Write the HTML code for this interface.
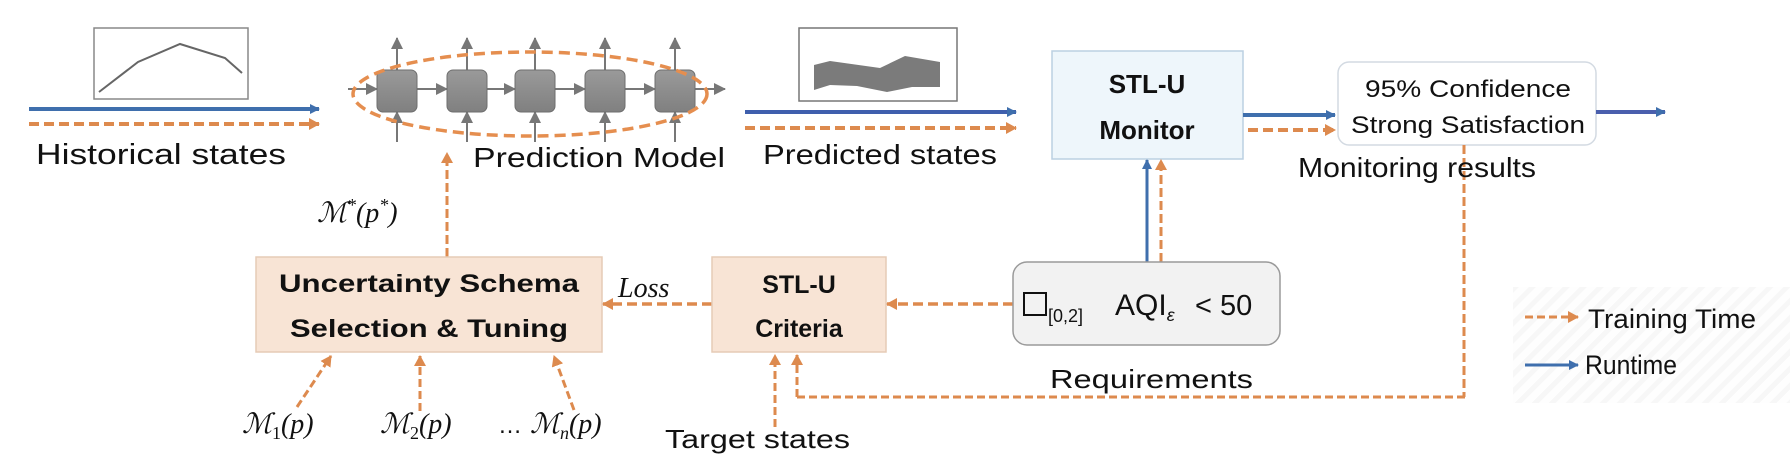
<!DOCTYPE html>
<html><head><meta charset="utf-8"><style>
html,body{margin:0;padding:0;background:#fff;}
svg{display:block;}
text{font-family:"Liberation Sans",sans-serif;fill:#111;}
.b{font-weight:bold;}
.m{font-family:"Liberation Serif",serif;font-style:italic;}
</style></head><body>
<svg width="1790" height="470" viewBox="0 0 1790 470" xmlns="http://www.w3.org/2000/svg">
<defs>
<marker id="ab" markerWidth="10" markerHeight="10" refX="9" refY="5" orient="auto" markerUnits="userSpaceOnUse"><path d="M0,0 L10,5 L0,10 z" fill="#3f6fad"/></marker>
<marker id="ao" markerWidth="11" markerHeight="12" refX="10" refY="6" orient="auto" markerUnits="userSpaceOnUse"><path d="M0,0 L11,6 L0,12 z" fill="#dd8a4e"/></marker>
<marker id="ag" markerWidth="12" markerHeight="12" refX="11" refY="6" orient="auto" markerUnits="userSpaceOnUse"><path d="M0,0 L12,6 L0,12 z" fill="#777"/></marker>
<linearGradient id="cg" x1="0" y1="0" x2="0" y2="1"><stop offset="0" stop-color="#9a9a9a"/><stop offset="1" stop-color="#808080"/></linearGradient>
<pattern id="hatch" width="12" height="12" patternUnits="userSpaceOnUse" patternTransform="rotate(45)"><rect width="12" height="12" fill="#fefefe"/><rect width="5" height="12" fill="#f7f7f7"/></pattern>
</defs>

<!-- Historical -->
<rect x="94" y="28" width="154" height="71" fill="#fff" stroke="#888" stroke-width="1.5"/>
<polyline points="99,92 138,62 180,44 225,58 242,73" fill="none" stroke="#666" stroke-width="2"/>
<line x1="29" y1="109" x2="319" y2="109" stroke="#3f6fad" stroke-width="4" marker-end="url(#ab)"/>
<line x1="29" y1="124" x2="319" y2="124" stroke="#dd8a4e" stroke-width="4" stroke-dasharray="10,5" marker-end="url(#ao)"/>
<text x="36" y="164" font-size="29" textLength="250" lengthAdjust="spacingAndGlyphs">Historical states</text>

<!-- Prediction model -->
<g stroke="#777" stroke-width="2" fill="none">
<line x1="397" y1="70" x2="397" y2="38" marker-end="url(#ag)"/>
<line x1="467" y1="70" x2="467" y2="38" marker-end="url(#ag)"/>
<line x1="535" y1="70" x2="535" y2="38" marker-end="url(#ag)"/>
<line x1="605" y1="70" x2="605" y2="38" marker-end="url(#ag)"/>
<line x1="675" y1="70" x2="675" y2="38" marker-end="url(#ag)"/>
<line x1="397" y1="142" x2="397" y2="112" marker-end="url(#ag)"/>
<line x1="467" y1="142" x2="467" y2="112" marker-end="url(#ag)"/>
<line x1="535" y1="142" x2="535" y2="112" marker-end="url(#ag)"/>
<line x1="605" y1="142" x2="605" y2="112" marker-end="url(#ag)"/>
<line x1="675" y1="142" x2="675" y2="112" marker-end="url(#ag)"/>
<line x1="348" y1="89" x2="377" y2="89" marker-end="url(#ag)"/>
<line x1="417" y1="89" x2="447" y2="89" marker-end="url(#ag)"/>
<line x1="487" y1="89" x2="515" y2="89" marker-end="url(#ag)"/>
<line x1="554" y1="89" x2="585" y2="89" marker-end="url(#ag)"/>
<line x1="625" y1="89" x2="655" y2="89" marker-end="url(#ag)"/>
<line x1="695" y1="89" x2="725" y2="89" marker-end="url(#ag)"/>
</g>
<g fill="url(#cg)" stroke="#6e6e6e" stroke-width="1">
<rect x="377" y="70" width="40" height="42" rx="6"/>
<rect x="447" y="70" width="40" height="42" rx="6"/>
<rect x="515" y="70" width="40" height="42" rx="6"/>
<rect x="585" y="70" width="40" height="42" rx="6"/>
<rect x="655" y="70" width="40" height="42" rx="6"/>
</g>
<ellipse cx="530" cy="94" rx="177" ry="42" fill="none" stroke="#e58e4f" stroke-width="3.5" stroke-dasharray="11,6"/>
<text x="473" y="167" font-size="28" textLength="252" lengthAdjust="spacingAndGlyphs">Prediction Model</text>

<!-- Predicted -->
<rect x="799" y="28" width="158" height="73" fill="#fff" stroke="#777" stroke-width="1.5"/>
<polygon points="814,65 830,61 880,68 905,56 940,62 940,87 912,87 887,92 857,86 830,85 814,90" fill="#7b7b7b"/>
<line x1="745" y1="112" x2="1016" y2="112" stroke="#3f5fad" stroke-width="4" marker-end="url(#ab)"/>
<line x1="745" y1="128" x2="1016" y2="128" stroke="#dd8a4e" stroke-width="4" stroke-dasharray="10,5" marker-end="url(#ao)"/>
<text x="763" y="164" font-size="28" textLength="234" lengthAdjust="spacingAndGlyphs">Predicted states</text>

<!-- Monitor -->
<rect x="1052" y="51" width="191" height="108" fill="#eef6fb" stroke="#bcd0e2" stroke-width="1.5"/>
<text x="1147" y="93" font-size="26" class="b" text-anchor="middle">STL-U</text>
<text x="1147" y="139" font-size="26" class="b" text-anchor="middle">Monitor</text>
<line x1="1243" y1="115" x2="1335" y2="115" stroke="#3f6fad" stroke-width="4" marker-end="url(#ab)"/>
<line x1="1248" y1="130" x2="1335" y2="130" stroke="#dd8a4e" stroke-width="4" stroke-dasharray="10,5" marker-end="url(#ao)"/>

<!-- Result -->
<rect x="1338" y="62" width="258" height="83" rx="11" fill="#fff" stroke="#d3dae2" stroke-width="1.5"/>
<text x="1468" y="97" font-size="24" text-anchor="middle" textLength="206" lengthAdjust="spacingAndGlyphs">95% Confidence</text>
<text x="1468" y="133" font-size="24" text-anchor="middle" textLength="234" lengthAdjust="spacingAndGlyphs">Strong Satisfaction</text>
<line x1="1596" y1="112" x2="1665" y2="112" stroke="#4a5fad" stroke-width="4" marker-end="url(#ab)"/>
<line x1="1464" y1="145" x2="1464" y2="397" stroke="#dd8a4e" stroke-width="3" stroke-dasharray="9,4"/>
<text x="1298" y="177" font-size="28" textLength="238" lengthAdjust="spacingAndGlyphs">Monitoring results</text>

<!-- M* arrow -->
<line x1="447" y1="257" x2="447" y2="153" stroke="#dd8a4e" stroke-width="3" stroke-dasharray="9,4" marker-end="url(#ao)"/>
<text x="317" y="222" font-size="28" class="m">ℳ<tspan font-size="18" dy="-11">*</tspan><tspan dy="11">(p</tspan><tspan font-size="18" dy="-11">*</tspan><tspan dy="11">)</tspan></text>

<!-- Uncertainty box -->
<rect x="256" y="257" width="346" height="95" fill="#f8e4d5" stroke="#e6cbb6" stroke-width="1.5"/>
<text x="429" y="292" font-size="25" class="b" text-anchor="middle" textLength="300" lengthAdjust="spacingAndGlyphs">Uncertainty Schema</text>
<text x="429" y="337" font-size="25" class="b" text-anchor="middle" textLength="278" lengthAdjust="spacingAndGlyphs">Selection &amp; Tuning</text>

<!-- Loss -->
<line x1="712" y1="304" x2="603" y2="304" stroke="#dd8a4e" stroke-width="3.5" stroke-dasharray="10,5" marker-end="url(#ao)"/>
<text x="618" y="297" font-size="28" class="m">Loss</text>

<!-- Criteria -->
<rect x="712" y="257" width="174" height="95" fill="#f8e4d5" stroke="#e6cbb6" stroke-width="1.5"/>
<text x="799" y="293" font-size="25" class="b" text-anchor="middle">STL-U</text>
<text x="799" y="337" font-size="25" class="b" text-anchor="middle">Criteria</text>
<line x1="1013" y1="304" x2="887" y2="304" stroke="#dd8a4e" stroke-width="3.5" stroke-dasharray="10,5" marker-end="url(#ao)"/>

<!-- M_i arrows -->
<g stroke="#dd8a4e" stroke-width="3" stroke-dasharray="8,4" fill="none">
<line x1="297" y1="407" x2="331" y2="356" marker-end="url(#ao)"/>
<line x1="420" y1="411" x2="420" y2="356" marker-end="url(#ao)"/>
<line x1="574" y1="410" x2="554" y2="356" marker-end="url(#ao)"/>
<line x1="775" y1="427" x2="775" y2="355" marker-end="url(#ao)"/>
<line x1="797" y1="397" x2="797" y2="355" marker-end="url(#ao)"/>
<line x1="797" y1="397" x2="1465" y2="397"/>
</g>
<text x="242" y="433" font-size="28" class="m">ℳ<tspan font-size="18" font-style="normal" dy="6">1</tspan><tspan dy="-6">(p)</tspan></text>
<text x="380" y="433" font-size="28" class="m">ℳ<tspan font-size="18" font-style="normal" dy="6">2</tspan><tspan dy="-6">(p)</tspan></text>
<text x="498" y="433" font-size="24">…</text>
<text x="530" y="433" font-size="28" class="m">ℳ<tspan font-size="18" dy="6">n</tspan><tspan dy="-6">(p)</tspan></text>
<text x="665" y="448" font-size="26" textLength="185" lengthAdjust="spacingAndGlyphs">Target states</text>

<!-- Requirement -->
<line x1="1147" y1="262" x2="1147" y2="160" stroke="#3f6fad" stroke-width="3" marker-end="url(#ab)"/>
<line x1="1161" y1="262" x2="1161" y2="160" stroke="#dd8a4e" stroke-width="3" stroke-dasharray="9,4" marker-end="url(#ao)"/>
<rect x="1013" y="262" width="267" height="83" rx="14" fill="#f2f2f2" stroke="#9a9a9a" stroke-width="1.5"/>
<rect x="1024" y="293" width="22" height="22" fill="none" stroke="#111" stroke-width="2"/>
<text x="1048" y="322" font-size="18" font-family="Liberation Serif, serif">[0,2]</text>
<text x="1115" y="315" font-size="30" font-family="Liberation Serif, serif">AQI<tspan font-size="18" font-style="italic" dy="6">ε</tspan></text>
<text x="1195" y="315" font-size="29">&lt; 50</text>
<text x="1050" y="388" font-size="26" textLength="203" lengthAdjust="spacingAndGlyphs">Requirements</text>

<!-- Legend -->
<rect x="1513" y="287" width="277" height="116" fill="url(#hatch)"/>
<line x1="1525" y1="317" x2="1578" y2="317" stroke="#dd8a4e" stroke-width="3" stroke-dasharray="8,4" marker-end="url(#ao)"/>
<text x="1588" y="328" font-size="27" textLength="168" lengthAdjust="spacingAndGlyphs">Training Time</text>
<line x1="1525" y1="365" x2="1578" y2="365" stroke="#3f6fad" stroke-width="3" marker-end="url(#ab)"/>
<text x="1585" y="374" font-size="27" textLength="92" lengthAdjust="spacingAndGlyphs">Runtime</text>
</svg>
</body></html>
